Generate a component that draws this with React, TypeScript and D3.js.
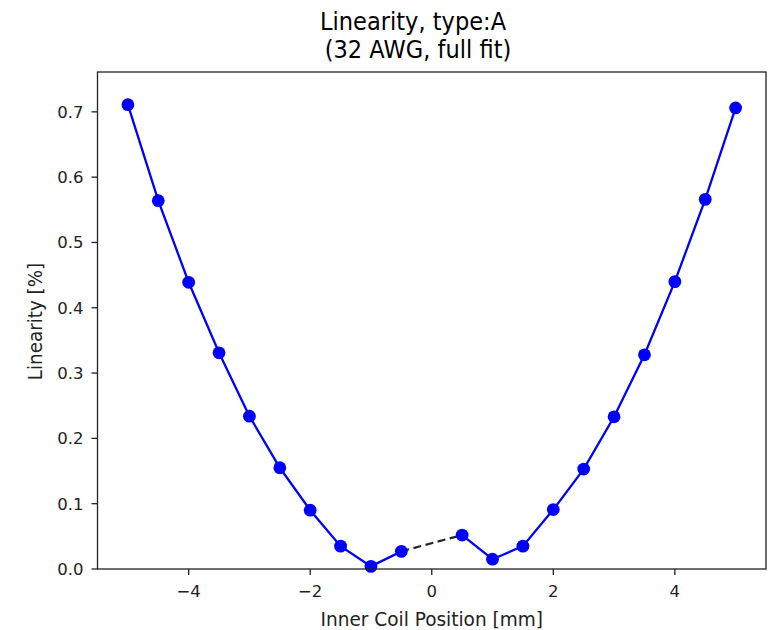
import React from "react";
import * as d3 from "d3";

const positions = [-5, -4.5, -4, -3.5, -3, -2.5, -2, -1.5, -1, -0.5, 0.5, 1, 1.5, 2, 2.5, 3, 3.5, 4, 4.5, 5];
const linearity = [0.711, 0.564, 0.439, 0.331, 0.234, 0.155, 0.09, 0.035, 0.004, 0.027, 0.052, 0.015, 0.035, 0.091, 0.153, 0.233, 0.328, 0.44, 0.566, 0.706];
const xTicks = [-4, -2, 0, 2, 4];
const yTicks = [0, 0.1, 0.2, 0.3, 0.4, 0.5, 0.6, 0.7];
const titleLines = ["Linearity, type:A", "(32 AWG, full fit)"];

const W = 781, H = 630;
const L = 97.5, R = 766, T = 72, B = 569;
const FONT = "DejaVu Sans, sans-serif";

export default function App() {
  const x = d3.scaleLinear().domain([-5.5, 5.5]).range([L, R]);
  const y = d3.scaleLinear().domain([0, 0.761]).range([B, T]);
  const pts = positions.map((p, i) => ({ p, v: linearity[i] }));
  const gapIdx = pts.findIndex((d) => d.p > 0);
  const left = pts.slice(0, gapIdx);
  const right = pts.slice(gapIdx);
  const bridge = [pts[gapIdx - 1], pts[gapIdx]];
  const line = d3.line<{ p: number; v: number }>().x((d) => x(d.p)).y((d) => y(d.v));
  const fmtX = (v: number) => (v < 0 ? "\u2212" + Math.abs(v) : String(v));
  const cx = (L + R) / 2;
  const titleX = [413, 418];
  return (
    <svg width={W} height={H} style={{ position: "absolute", left: 0, top: 0, background: "#fff" }} fontFamily={FONT}>
      <rect x={0} y={0} width={W} height={H} fill="#fff" />
      {titleLines.map((t, i) => (
        <text key={i} transform={`translate(${titleX[i]},${29.5 + i * 28}) scale(0.98,1.08)`} textAnchor="middle" fontSize={23} fill="#000">{t}</text>
      ))}
      <path d={line(bridge) || ""} fill="none" stroke="#000" strokeWidth={2.2} strokeDasharray="8,4.5" opacity={0.85} />
      <path d={line(left) || ""} fill="none" stroke="#0000ff" strokeWidth={2.3} />
      <path d={line(right) || ""} fill="none" stroke="#0000ff" strokeWidth={2.3} />
      {pts.map((d, i) => (
        <circle key={i} cx={x(d.p)} cy={y(d.v)} r={6.4} fill="#0000ff" />
      ))}
      <rect x={L} y={T} width={R - L} height={B - T} fill="none" stroke="#222" strokeWidth={1.3} />
      {xTicks.map((t) => (
        <g key={t} transform={`translate(${x(t)},${B})`}>
          <line y1={0} y2={6} stroke="#222" strokeWidth={1.3} />
          <text y={28} textAnchor="middle" fontSize={16.5} fill="#222">{fmtX(t)}</text>
        </g>
      ))}
      {yTicks.map((t) => (
        <g key={t} transform={`translate(${L},${y(t)})`}>
          <line x1={0} x2={-6} stroke="#222" strokeWidth={1.3} />
          <text x={-14} dy="0.36em" textAnchor="end" fontSize={16.5} fill="#222">{t.toFixed(1)}</text>
        </g>
      ))}
      <text transform={`translate(${cx},626) scale(1,1.06)`} textAnchor="middle" fontSize={18.5} fill="#222">Inner Coil Position [mm]</text>
      <text transform={`translate(42,${(T + B) / 2 + 1}) rotate(-90) scale(1,1.06)`} textAnchor="middle" fontSize={18.3} fill="#222">Linearity [%]</text>
    </svg>
  );
}
